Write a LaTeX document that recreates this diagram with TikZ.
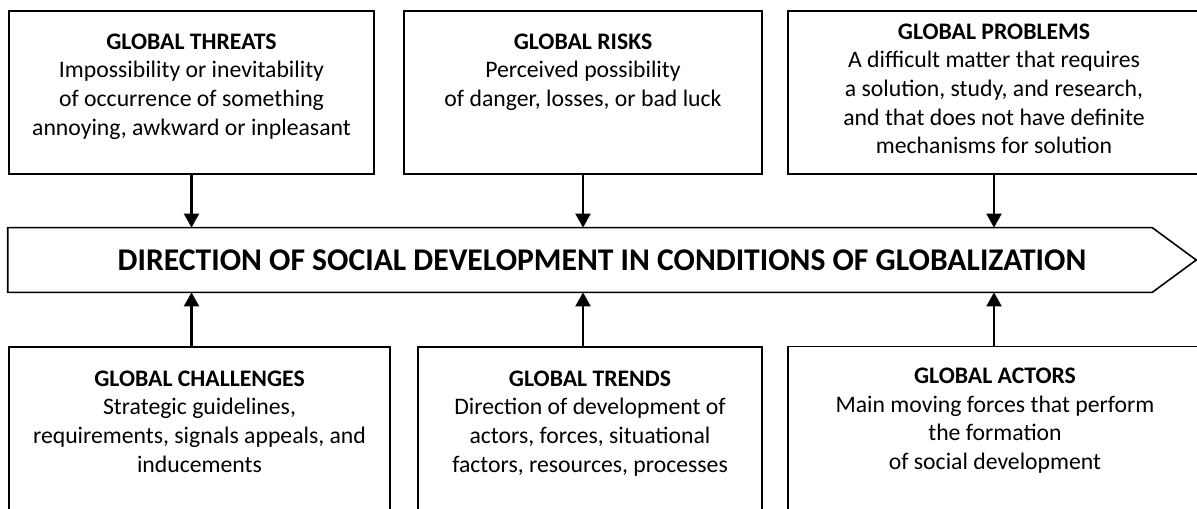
\documentclass[tikz,border=0pt]{standalone}
\usepackage{fontspec}
\setmainfont{Carlito}
\usetikzlibrary{
    arrows.meta,
    positioning
}

\begin{document}
\begin{tikzpicture}[x=0.02cm, y=-0.02cm,
    box/.style={draw, line width=0.9pt, inner sep=0pt, minimum height=3.26cm},
    txt/.style={align=center, inner sep=0pt, font=\fontsize{13.5}{16.3}\selectfont},
    link/.style={line width=1.3pt, -{Triangle[length=8pt,width=8.5pt]}}
]
    \clip (0, 0) rectangle (1197, 509);

    \node[minimum width=23.76cm, minimum height=1.28cm, inner sep=0pt,
          font=\fontsize{18}{21}\selectfont\bfseries] (dir) at (602, 260)
          {DIRECTION OF SOCIAL DEVELOPMENT IN CONDITIONS OF GLOBALIZATION};
    \draw[line width=0.9pt] (dir.north west) -- ([xshift=-0.88cm]dir.north east) -- (dir.east)
        -- ([xshift=-0.88cm]dir.south east) -- (dir.south west) -- cycle;

    \node[box, minimum width=7.30cm] (t1) at (191.5, 92.5) {};
    \node[box, minimum width=7.16cm] (t2) at (583, 92.5) {};
    \node[box, minimum width=8.24cm] (t3) at (994, 92.5) {};
    \node[box, minimum width=7.62cm, minimum height=3.86cm] (b1) at (199.5, 443.5) {};
    \node[box, minimum width=6.88cm, minimum height=3.86cm] (b2) at (590, 443.5) {};
    \node[box, minimum width=8.28cm, minimum height=3.86cm] (b3) at (995, 443) {};

    \node[txt, below=0.46cm of t1.north] (threats)
        {\textbf{GLOBAL THREATS}\\Impossibility or inevitability\\of occurrence of something\\annoying, awkward or inpleasant};
    \node[txt, below=0.46cm of t2.north] (risks)
        {\textbf{GLOBAL RISKS}\\Perceived possibility\\of danger, losses, or bad luck};
    \node[txt, below=0.26cm of t3.north] (problems)
        {\textbf{GLOBAL PROBLEMS}\\A difficult matter that requires\\a solution, study, and research,\\and that does not have definite\\mechanisms for solution};
    \node[txt, below=0.48cm of b1.north] (challenges)
        {\textbf{GLOBAL CHALLENGES}\\Strategic guidelines,\\requirements, signals appeals, and\\inducements};
    \node[txt, below=0.48cm of b2.north] (trends)
        {\textbf{GLOBAL TRENDS}\\Direction of development of\\actors, forces, situational\\factors, resources, processes};
    \node[txt, below=0.44cm of b3.north] (actors)
        {\textbf{GLOBAL ACTORS}\\Main moving forces that perform\\the formation\\of social development};

    \draw[link] (t1.south) -- (t1.south |- dir.north);
    \draw[link] (t2.south) -- (t2.south |- dir.north);
    \draw[link] (t3.south) -- (t3.south |- dir.north);
    \draw[link] (t1.south |- b1.north) -- (t1.south |- dir.south);
    \draw[link] (t2.south |- b2.north) -- (t2.south |- dir.south);
    \draw[link] (t3.south |- b3.north) -- (t3.south |- dir.south);
\end{tikzpicture}
\end{document}
